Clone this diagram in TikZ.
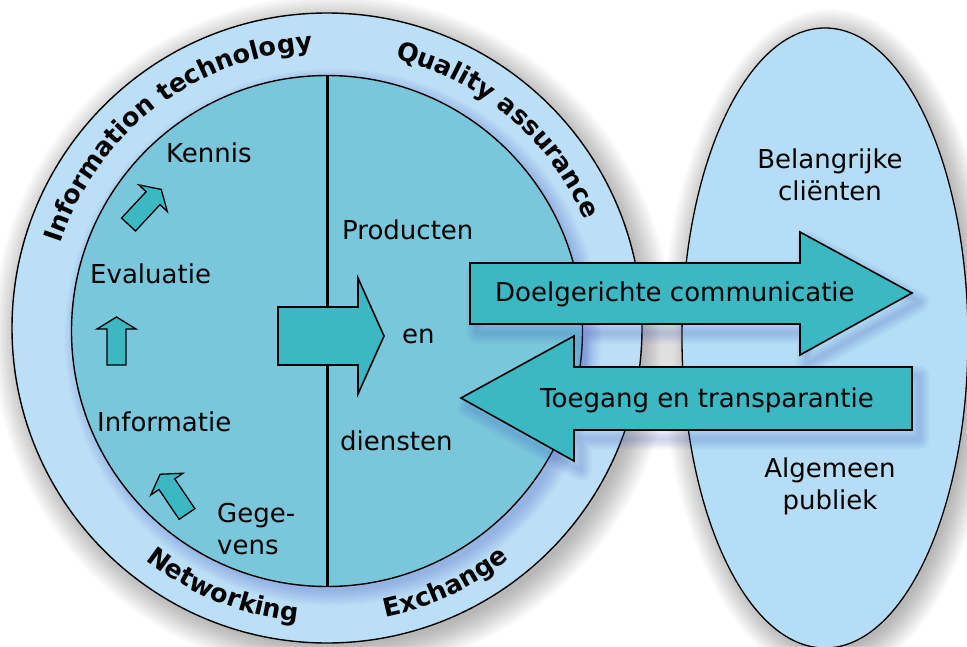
\documentclass[tikz,border=0pt]{standalone}
\usepackage{fontspec}
\setmainfont{DejaVu Sans}
\usetikzlibrary{decorations.text}
\definecolor{ringblue}{RGB}{187,223,246}
\definecolor{ellblue}{RGB}{181,221,245}
\definecolor{innerteal}{RGB}{122,199,219}
\definecolor{arrowteal}{RGB}{60,184,195}
\definecolor{shadowblue}{RGB}{70,95,190}
\begin{document}
\begin{tikzpicture}[x=1pt,y=-1pt,
  lbl/.style={font=\fontsize{26}{32}\selectfont, inner sep=0pt},
  ringlbl/.style={decorate, decoration={text along path, text align=center,
      text={|\fontsize{25.5}{30}\selectfont\bfseries|#1}}},
  bigarr/.style={fill=arrowteal, draw=black, line width=1.6pt, line join=miter},
  rarrow/.style={insert path={(470,263) -- (800,263) -- (800,232) -- (912,293) -- (800,355) -- (800,324) -- (470,324) -- cycle}},
  larrow/.style={insert path={(912,367) -- (574,367) -- (574,336) -- (461,398) -- (574,461) -- (574,430) -- (912,430) -- cycle}},
  carrow/.style={insert path={(278,307) -- (358,307) -- (358,278) -- (384,336) -- (358,394) -- (358,365) -- (278,365) -- cycle}},
  smallarrow/.pic={\draw[bigarr, line width=1.3pt] (0,-9.5) -- (36,-9.5) -- (36,-19.5) -- (48,0) -- (36,19.5) -- (36,9.5) -- (0,9.5) -- cycle;}
]
\useasboundingbox (0,0) rectangle (967,646);
\clip (0,0) rectangle (967,646);
\fill[white] (0,0) rectangle (967,646);

% soft drop shadows
\foreach \i in {0,...,14} {
  \fill[black, opacity=0.018] (333,335) circle[radius=312+2*\i];
  \fill[black, opacity=0.018] (830,344) ellipse[x radius=140+2*\i, y radius=307+2*\i];
}

% right ellipse
\draw[fill=ellblue, line width=1.3pt] (825,338) ellipse[x radius=143, y radius=310];

% outer ring
\draw[fill=ringblue, line width=1.4pt] (327,328) circle[radius=315];

% shadow of inner disc on the ring
\foreach \i in {0,...,9} {
  \fill[shadowblue, opacity=0.035] (333,337) circle[radius=254+1.6*\i];
}

% inner disc
\draw[fill=innerteal, line width=1.4pt] (327,331) circle[radius=255.5];
\draw[line width=3pt] (327,75.5) -- (327,586.5);

% ring texts
\path[ringlbl={Information technology}] (327,330) ++(-163:280) arc[start angle=-163, end angle=-92, radius=280];
\path[ringlbl={Quality assurance}] (327,330) ++(-76.5:280) arc[start angle=-76.5, end angle=-22.5, radius=280];
\path[ringlbl={Networking}] (327,330) ++(-231:293) arc[start angle=-231, end angle=-265, radius=293];
\path[ringlbl={Exchange}] (327,330) ++(-281:293) arc[start angle=-281, end angle=-309, radius=293];

% small arrows
\pic[rotate=47] at (128.5,224.5) {smallarrow};
\pic[rotate=90] at (116.5,365) {smallarrow};
\pic[rotate=124] at (187,514) {smallarrow};

% central arrow
\path[bigarr, carrow];

% shadows of the big arrows
\foreach \i in {1,...,9} {
  \path[draw=shadowblue, opacity=0.03, line width=2.4*\i, line join=round, shift={(7,9)}, rarrow];
  \path[draw=shadowblue, opacity=0.03, line width=2.4*\i, line join=round, shift={(7,9)}, larrow];
}
\path[bigarr, rarrow];
\path[bigarr, larrow];

% labels
\node[lbl, anchor=base west] (kennis) at (166,162) {Kennis};
\node[lbl, anchor=base west] (evaluatie) at (90,283) {Evaluatie};
\node[lbl, anchor=base west] (informatie) at (97,431) {Informatie};
\node[lbl, anchor=base west, align=left] (gegevens) at (217,554) {Gege-\\vens};
\node[lbl, anchor=base west] (producten) at (342,239) {Producten};
\node[lbl, anchor=base west] (en) at (402,343) {en};
\node[lbl, anchor=base west] (diensten) at (340,450) {diensten};
\node[lbl, anchor=base west] (doel) at (495,301) {Doelgerichte communicatie};
\node[lbl, anchor=base west] (toegang) at (540,407) {Toegang en transparantie};
\node[lbl, anchor=base, align=center] (clienten) at (830,200) {Belangrijke\\cliënten};
\node[lbl, anchor=base, align=center] (publiek) at (830,509) {Algemeen\\publiek};
\end{tikzpicture}
\end{document}
